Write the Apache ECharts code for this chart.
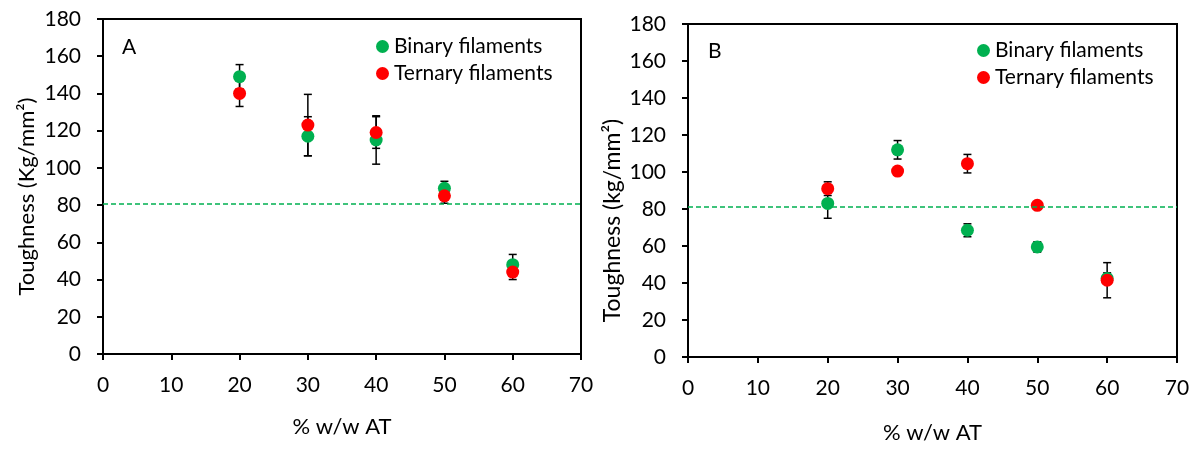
<!DOCTYPE html>
<html>
<head>
<meta charset="utf-8">
<script src="https://cdn.jsdelivr.net/npm/echarts@6/dist/echarts.min.js"></script>
<style>
  html, body { margin: 0; padding: 0; background: #fff; }
  #chart { width: 1202px; height: 449px; }
</style>
</head>
<body>
<div id="chart"></div>
<script>
// values
const xValues = [20, 30, 40, 50, 60];

const binaryA = [149, 117, 115, 89, 48];
const binaryAErr = [6.5, 10.5, 13, 3.8, 5.5];
const ternaryA = [140, 123, 119, 85, 44];
const ternaryAErr = [7, 16.5, 8.5, 4, 4];

const binaryB = [83, 112, 68.5, 59.5, 42.5];
const binaryBErr = [8, 5, 3.5, 2.8, 3];
const ternaryB = [91, 100.5, 104.5, 82, 41.5];
const ternaryBErr = [3.7, 1, 5, 1, 9.5];

const refLine = 81;
const seriesNames = ["Binary filaments", "Ternary filaments"];
const FONT = "Lato, 'Open Sans', sans-serif";

const chart = echarts.init(document.getElementById("chart"));

function pairs(ys) {
  return xValues.map((x, i) => [x, ys[i]]);
}

function errorBars(ys, errs, idx) {
  return {
    type: "custom",
    xAxisIndex: idx,
    yAxisIndex: idx,
    silent: true,
    z: 1,
    encode: { x: 0, y: [1, 2] },
    data: xValues.map((x, i) => [x, ys[i] - errs[i], ys[i] + errs[i]]),
    renderItem: (params, api) => {
      const lo = api.coord([api.value(0), api.value(1)]);
      const hi = api.coord([api.value(0), api.value(2)]);
      const w = 4;
      const style = { stroke: "#000", lineWidth: 1.5 };
      return {
        type: "group",
        children: [
          { type: "line", shape: { x1: lo[0], y1: lo[1], x2: hi[0], y2: hi[1] }, style },
          { type: "line", shape: { x1: lo[0] - w, y1: lo[1], x2: lo[0] + w, y2: lo[1] }, style },
          { type: "line", shape: { x1: hi[0] - w, y1: hi[1], x2: hi[0] + w, y2: hi[1] }, style },
        ],
      };
    },
  };
}

function dots(name, ys, color, idx, withLine) {
  const s = {
    name: name,
    type: "scatter",
    xAxisIndex: idx,
    yAxisIndex: idx,
    symbol: "circle",
    symbolSize: 13,
    z: 3,
    itemStyle: { color: color, opacity: 1 },
    data: pairs(ys),
  };
  if (withLine) {
    s.markLine = {
      silent: true,
      symbol: "none",
      label: { show: false },
      lineStyle: { color: "#00B050", type: [5, 3], width: 1.5 },
      data: [{ yAxis: refLine }],
    };
  }
  return s;
}

function xAxis(idx, gap) {
  return {
    gridIndex: idx,
    type: "value",
    min: 0,
    max: 70,
    interval: 10,
    name: "% w/w AT",
    nameLocation: "middle",
    nameGap: gap,
    nameTextStyle: { fontSize: 22, color: "#000", fontFamily: FONT },
    axisLine: { lineStyle: { color: "#000", width: 2 } },
    axisTick: { length: 6, lineStyle: { color: "#000", width: 2 } },
    axisLabel: { fontSize: 21, color: "#000", margin: 21, fontFamily: FONT },
    splitLine: { show: false },
  };
}

function yAxis(idx, name, gap, size, shift) {
  return {
    gridIndex: idx,
    type: "value",
    min: 0,
    max: 180,
    interval: 20,
    name: name,
    nameLocation: "middle",
    nameGap: gap,
    // padding on the right end pushes the rotated name down the axis
    nameTextStyle: { fontSize: size, color: "#000", fontFamily: FONT, padding: [0, shift, 0, 0] },
    axisLine: { show: true, lineStyle: { color: "#000", width: 2 } },
    axisTick: { show: true, length: 6, lineStyle: { color: "#000", width: 2 } },
    axisLabel: { fontSize: 21, color: "#000", margin: 22, fontFamily: FONT },
    splitLine: { show: false },
  };
}

function legend(left, top) {
  return {
    left: left,
    top: top,
    orient: "vertical",
    icon: "circle",
    itemWidth: 13,
    itemHeight: 13,
    itemGap: 6,
    selectedMode: false,
    textStyle: { fontSize: 21, color: "#000", fontFamily: FONT },
    data: seriesNames,
  };
}

const option = {
  backgroundColor: "#fff",
  animation: false,
  title: [
    { text: "A", left: 117, top: 32, textStyle: { fontSize: 21, fontWeight: "normal", color: "#000", fontFamily: FONT } },
    { text: "B", left: 703, top: 36, textStyle: { fontSize: 21, fontWeight: "normal", color: "#000", fontFamily: FONT } },
  ],
  legend: [legend(371, 31), legend(972, 35)],
  grid: [
    { left: 103, top: 19, width: 478, height: 335, show: true, borderColor: "#000", borderWidth: 2 },
    { left: 688, top: 24, width: 489, height: 333, show: true, borderColor: "#000", borderWidth: 2 },
  ],
  xAxis: [xAxis(0, 62), xAxis(1, 65)],
  yAxis: [
    yAxis(0, "Toughness (Kg/mm²)", 65, 22, 20),
    yAxis(1, "Toughness (kg/mm²)", 64, 23, 60),
  ],
  series: [
    errorBars(binaryA, binaryAErr, 0),
    errorBars(ternaryA, ternaryAErr, 0),
    dots(seriesNames[0], binaryA, "#00B050", 0, true),
    dots(seriesNames[1], ternaryA, "#FF0000", 0, false),
    errorBars(binaryB, binaryBErr, 1),
    errorBars(ternaryB, ternaryBErr, 1),
    dots(seriesNames[0], binaryB, "#00B050", 1, true),
    dots(seriesNames[1], ternaryB, "#FF0000", 1, false),
  ],
};

chart.setOption(option);
</script>
</body>
</html>
